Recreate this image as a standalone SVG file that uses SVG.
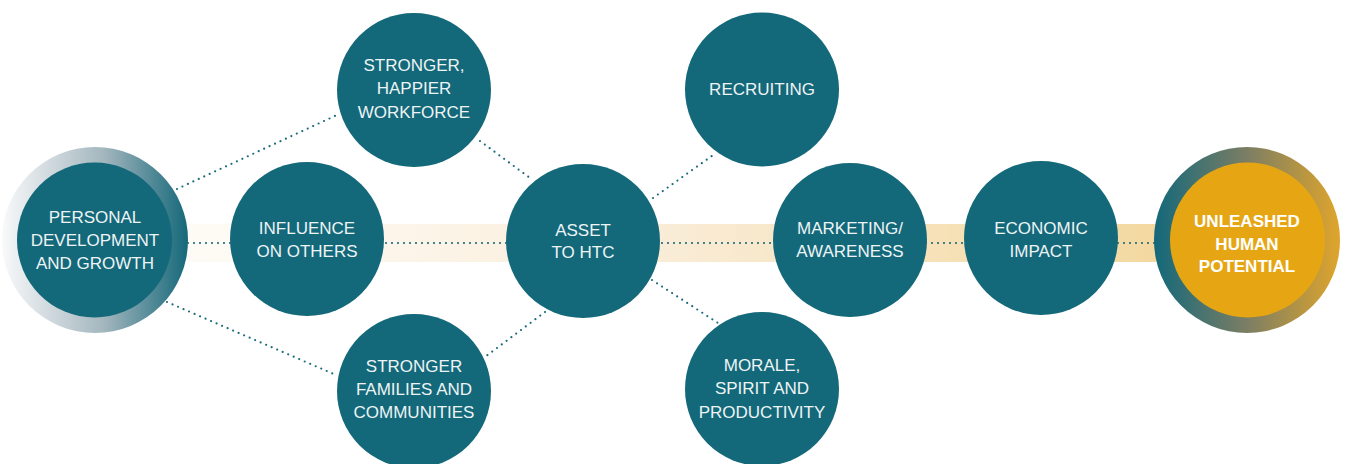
<svg xmlns="http://www.w3.org/2000/svg" width="1346" height="464" viewBox="0 0 1346 464">
  <defs>
    <linearGradient id="band" x1="187" y1="0" x2="1160" y2="0" gradientUnits="userSpaceOnUse">
      <stop offset="0" stop-color="#fefbf6"/>
      <stop offset="0.45" stop-color="#faeedb"/>
      <stop offset="1" stop-color="#f3d8a0"/>
    </linearGradient>
    <linearGradient id="ringStart" x1="0" y1="0" x2="1" y2="0">
      <stop offset="0" stop-color="#f8f9fa"/>
      <stop offset="0.55" stop-color="#a3b6be"/>
      <stop offset="1" stop-color="#15687a"/>
    </linearGradient>
    <linearGradient id="ringEnd" x1="0" y1="0" x2="1" y2="0">
      <stop offset="0" stop-color="#13687a"/>
      <stop offset="0.5" stop-color="#7c7e64"/>
      <stop offset="1" stop-color="#dfa52c"/>
    </linearGradient>
    <style>
      .node { fill: #13687a; }
      .label { font-family: "Liberation Sans", Arial, sans-serif; font-size: 17px; fill: #eef4f5; text-anchor: middle; }
      .goal { font-family: "Liberation Sans", Arial, sans-serif; font-size: 17px; font-weight: bold; fill: #ffffff; text-anchor: middle; }
      .dots { fill: none; stroke: #1b6b7b; stroke-width: 2.2; stroke-linecap: round; stroke-dasharray: 0 6; }
    </style>
  </defs>

  <rect width="1346" height="464" fill="#ffffff"/>

  <!-- horizontal band behind the main path -->
  <rect x="187" y="224" width="973" height="38" fill="url(#band)"/>

  <!-- connectors -->
  <g id="connectors">
    <line class="dots" x1="188" y1="243" x2="1157" y2="243"/>
    <line class="dots" x1="177" y1="189" x2="337" y2="115"/>
    <line class="dots" x1="167" y1="302" x2="336" y2="375"/>
    <line class="dots" x1="480" y1="141" x2="530" y2="178"/>
    <line class="dots" x1="545" y1="312" x2="485" y2="357"/>
    <line class="dots" x1="653" y1="198" x2="716" y2="153"/>
    <line class="dots" x1="652" y1="280" x2="718" y2="323"/>
  </g>

  <g id="personal-development">
    <circle cx="95" cy="240" r="93" fill="url(#ringStart)"/>
    <circle class="node" cx="94.5" cy="240" r="77.5"/>
    <text class="label" x="95" y="222.7">PERSONAL</text>
    <text class="label" x="95" y="246">DEVELOPMENT</text>
    <text class="label" x="95" y="269">AND GROWTH</text>
  </g>

  <g id="influence-on-others">
    <circle class="node" cx="307" cy="239" r="77"/>
    <text class="label" x="307" y="234">INFLUENCE</text>
    <text class="label" x="307" y="256.7">ON OTHERS</text>
  </g>

  <g id="stronger-workforce">
    <circle class="node" cx="414" cy="90" r="77"/>
    <text class="label" x="414" y="71">STRONGER,</text>
    <text class="label" x="414" y="94.3">HAPPIER</text>
    <text class="label" x="414" y="117.7">WORKFORCE</text>
  </g>

  <g id="stronger-families">
    <circle class="node" cx="414" cy="391" r="77"/>
    <text class="label" x="414" y="371.7">STRONGER</text>
    <text class="label" x="414" y="395">FAMILIES AND</text>
    <text class="label" x="414" y="418">COMMUNITIES</text>
  </g>

  <g id="asset-to-htc">
    <circle class="node" cx="583" cy="241" r="77"/>
    <text class="label" x="583" y="236">ASSET</text>
    <text class="label" x="583" y="258">TO HTC</text>
  </g>

  <g id="recruiting">
    <circle class="node" cx="762" cy="89.5" r="77"/>
    <text class="label" x="762" y="95">RECRUITING</text>
  </g>

  <g id="morale">
    <circle class="node" cx="762" cy="389" r="77"/>
    <text class="label" x="762" y="371">MORALE,</text>
    <text class="label" x="762" y="394.3">SPIRIT AND</text>
    <text class="label" x="762" y="417.7">PRODUCTIVITY</text>
  </g>

  <g id="marketing-awareness">
    <circle class="node" cx="850" cy="240" r="77"/>
    <text class="label" x="850" y="234">MARKETING/</text>
    <text class="label" x="850" y="257">AWARENESS</text>
  </g>

  <g id="economic-impact">
    <circle class="node" cx="1041" cy="238" r="77"/>
    <text class="label" x="1041" y="234">ECONOMIC</text>
    <text class="label" x="1041" y="257">IMPACT</text>
  </g>

  <g id="unleashed-potential">
    <circle cx="1247" cy="240" r="93" fill="url(#ringEnd)"/>
    <circle cx="1247.5" cy="240" r="77.5" fill="#e6a614"/>
    <text class="goal" x="1247" y="227">UNLEASHED</text>
    <text class="goal" x="1247" y="250">HUMAN</text>
    <text class="goal" x="1247" y="272">POTENTIAL</text>
  </g>
</svg>
